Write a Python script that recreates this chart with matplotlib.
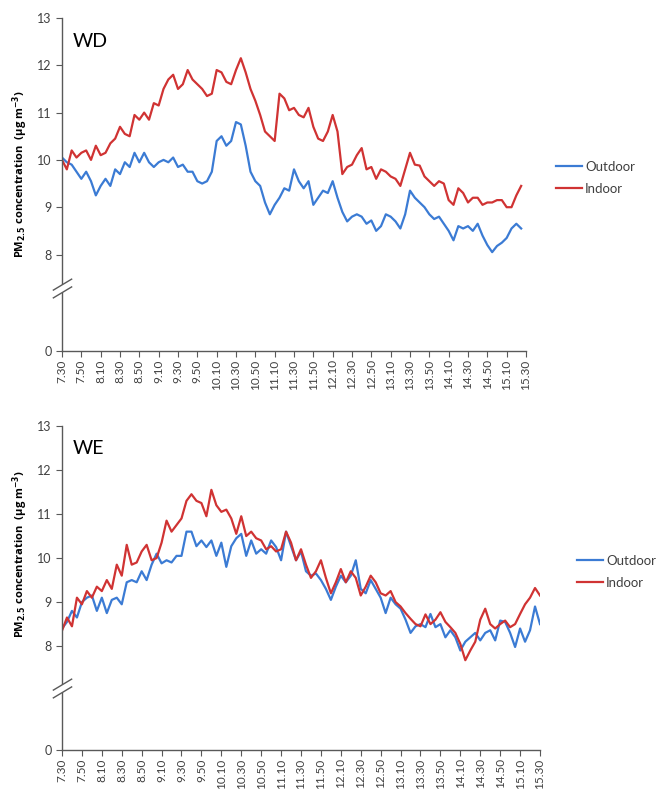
import numpy as np
import matplotlib.pyplot as plt
from matplotlib.path import Path

plt.rcParams['font.family'] = ['Lato', 'DejaVu Sans']

# minutes after 7:30, every 5 minutes
wd_minutes = np.arange(0, 480, 5)
we_minutes = np.arange(0, 485, 5)

wd_indoor = [10.0, 9.8, 10.2, 10.05, 10.15, 10.2, 10.0, 10.3, 10.1, 10.15,
             10.35, 10.45, 10.7, 10.55, 10.5, 10.95, 10.85, 11.0, 10.85, 11.2,
             11.15, 11.5, 11.7, 11.8, 11.5, 11.6, 11.9, 11.7, 11.6, 11.5,
             11.35, 11.4, 11.9, 11.85, 11.65, 11.6, 11.9, 12.15, 11.85, 11.5,
             11.25, 10.95, 10.6, 10.5, 10.4, 11.4, 11.3, 11.05, 11.1, 10.95,
             10.9, 11.1, 10.7, 10.45, 10.4, 10.6, 10.95, 10.6, 9.7, 9.85,
             9.9, 10.1, 10.25, 9.8, 9.85, 9.6, 9.8, 9.75, 9.65, 9.6,
             9.45, 9.8, 10.15, 9.9, 9.88, 9.65, 9.55, 9.45, 9.55, 9.5,
             9.15, 9.05, 9.4, 9.3, 9.1, 9.2, 9.2, 9.05, 9.1, 9.1,
             9.15, 9.15, 9.0, 9.0, 9.25, 9.45]
wd_outdoor = [10.05, 9.95, 9.9, 9.75, 9.6, 9.75, 9.55, 9.25, 9.45, 9.6,
              9.45, 9.8, 9.7, 9.95, 9.85, 10.15, 9.95, 10.15, 9.95, 9.85,
              9.95, 10.0, 9.95, 10.05, 9.85, 9.9, 9.75, 9.75, 9.55, 9.5,
              9.55, 9.75, 10.4, 10.5, 10.3, 10.4, 10.8, 10.75, 10.3, 9.75,
              9.55, 9.45, 9.1, 8.85, 9.05, 9.2, 9.4, 9.35, 9.8, 9.55,
              9.4, 9.55, 9.05, 9.2, 9.35, 9.3, 9.55, 9.2, 8.9, 8.7,
              8.8, 8.85, 8.8, 8.65, 8.72, 8.5, 8.6, 8.85, 8.8, 8.7,
              8.55, 8.85, 9.35, 9.2, 9.1, 9.0, 8.85, 8.75, 8.8, 8.65,
              8.5, 8.3, 8.6, 8.55, 8.6, 8.5, 8.65, 8.4, 8.2, 8.05,
              8.18, 8.25, 8.35, 8.55, 8.65, 8.55]

we_indoor = [8.35, 8.65, 8.45, 9.1, 8.95, 9.25, 9.1, 9.35, 9.25, 9.5,
             9.3, 9.85, 9.6, 10.3, 9.85, 9.9, 10.15, 10.3, 9.95, 10.0,
             10.35, 10.85, 10.6, 10.75, 10.9, 11.3, 11.45, 11.3, 11.25, 10.95,
             11.55, 11.2, 11.05, 11.1, 10.9, 10.55, 10.95, 10.5, 10.6, 10.45,
             10.4, 10.2, 10.27, 10.15, 10.2, 10.6, 10.35, 9.95, 10.2, 9.85,
             9.55, 9.7, 9.95, 9.55, 9.2, 9.45, 9.75, 9.45, 9.7, 9.55,
             9.15, 9.35, 9.6, 9.45, 9.2, 9.15, 9.25, 9.0, 8.9, 8.75,
             8.62, 8.5, 8.45, 8.72, 8.5, 8.6, 8.77, 8.55, 8.43, 8.3,
             8.05, 7.68, 7.9, 8.1, 8.6, 8.85, 8.5, 8.4, 8.5, 8.58,
             8.43, 8.5, 8.73, 8.95, 9.1, 9.32, 9.15]
we_outdoor = [8.4, 8.55, 8.8, 8.65, 9.0, 9.1, 9.15, 8.8, 9.1, 8.75,
              9.05, 9.1, 8.95, 9.45, 9.5, 9.45, 9.7, 9.5, 9.85, 10.1,
              9.88, 9.95, 9.9, 10.05, 10.05, 10.6, 10.6, 10.27, 10.4, 10.25,
              10.4, 10.05, 10.35, 9.8, 10.27, 10.45, 10.55, 10.05, 10.4, 10.1,
              10.2, 10.1, 10.4, 10.25, 9.95, 10.6, 10.27, 9.95, 10.15, 9.7,
              9.6, 9.65, 9.5, 9.3, 9.05, 9.35, 9.6, 9.45, 9.6, 9.95,
              9.3, 9.2, 9.5, 9.3, 9.1, 8.75, 9.1, 8.95, 8.85, 8.6,
              8.3, 8.45, 8.5, 8.43, 8.73, 8.43, 8.5, 8.2, 8.36, 8.2,
              7.9, 8.1, 8.2, 8.3, 8.13, 8.3, 8.36, 8.13, 8.58, 8.55,
              8.3, 7.98, 8.4, 8.1, 8.36, 8.9, 8.5]

tick_minutes = np.arange(0, 481, 20)
tick_labels = ['7.30', '7.50', '8.10', '8.30', '8.50', '9.10', '9.30', '9.50',
               '10.10', '10.30', '10.50', '11.10', '11.30', '11.50', '12.10',
               '12.30', '12.50', '13.10', '13.30', '13.50', '14.10', '14.30',
               '14.50', '15.10', '15.30']
y_ticks = [0, 8, 9, 10, 11, 12, 13]

blue = '#3b7bd4'
red = '#d03333'
axis_col = '#595959'
text_col = '#404040'


def broken_scale(brk, brk_pos):
    xp = [0, brk, 13]
    fp = [0, brk_pos, brk_pos + 13 - brk]
    fwd = lambda v: np.interp(v, xp, fp)
    inv = lambda p: np.interp(p, fp, xp)
    return fwd, inv


def draw_panel(ax, minutes, outdoor, indoor, brk, brk_pos, tag, leg_anchor):
    ax.set_yscale('function', functions=broken_scale(brk, brk_pos))
    ax.plot(minutes, outdoor, color=blue, lw=1.6, label='Outdoor')
    ax.plot(minutes, indoor, color=red, lw=1.6, label='Indoor')
    ax.set_xlim(0, 480)
    ax.set_ylim(0, 13)
    ax.set_yticks(y_ticks)
    ax.set_yticklabels([str(t) for t in y_ticks])
    ax.set_xticks(tick_minutes)
    ax.set_xticklabels(tick_labels, rotation=90)
    ax.minorticks_off()
    for s in ['top', 'right']:
        ax.spines[s].set_visible(False)
    for s in ['left', 'bottom']:
        ax.spines[s].set_color(axis_col)
        ax.spines[s].set_linewidth(1.0)
    ax.tick_params(axis='both', direction='out', length=4, color=axis_col,
                   labelcolor=text_col, labelsize=9)
    ax.tick_params(axis='x', labelsize=8.5, pad=2)
    ax.text(0.022, 0.93, tag, transform=ax.transAxes, fontsize=14,
            va='center', ha='left', color='black')
    ax.legend(loc='center left', bbox_to_anchor=leg_anchor, frameon=False,
              fontsize=9.5, handlelength=2.0, handletextpad=0.2,
              labelspacing=0.8, labelcolor=text_col, borderaxespad=0,
              borderpad=0)

    # axis break mark
    trans = ax.get_yaxis_transform()
    gap = Path([(-1, -1), (1, 0.2), (1, 1), (-1, -0.2), (-1, -1)])
    marks = Path([(-1, -1), (1, 0.2), (-1, -0.2), (1, 1)],
                 [Path.MOVETO, Path.LINETO, Path.MOVETO, Path.LINETO])
    ax.plot([0], [brk], transform=trans, marker=gap, markersize=14,
            markerfacecolor='white', markeredgecolor='white', mew=0.5,
            clip_on=False, zorder=5)
    ax.plot([0], [brk], transform=trans, marker=marks, markersize=14,
            markerfacecolor='none', markeredgecolor=axis_col, mew=1.0,
            clip_on=False, zorder=6)


fig = plt.figure(figsize=(6.64, 7.91), dpi=100)
ax1 = fig.add_axes([62 / 664, 1 - 351 / 791, 464 / 664, 333 / 791])
ax2 = fig.add_axes([62 / 664, 1 - 750 / 791, 478 / 664, 324 / 791])

draw_panel(ax1, wd_minutes, wd_outdoor, wd_indoor, 7.3, 1.34, 'WD',
           ((556 - 62) / 464, 0.52))
draw_panel(ax2, we_minutes, we_outdoor, we_indoor, 7.05, 1.41, 'WE',
           ((577 - 62) / 478, 0.55))

ylab = 'PM$_{\\mathbf{2.5}}$ concentration  (μg m$^{\\mathbf{-3}}$)'
for yc in [174, 554]:
    fig.text(20 / 664, 1 - yc / 791, ylab, rotation=90, ha='center',
             va='center', fontsize=8, fontweight='bold', color='black',
             family=['Open Sans', 'DejaVu Sans'])

fig.savefig('out.png', dpi=100)
